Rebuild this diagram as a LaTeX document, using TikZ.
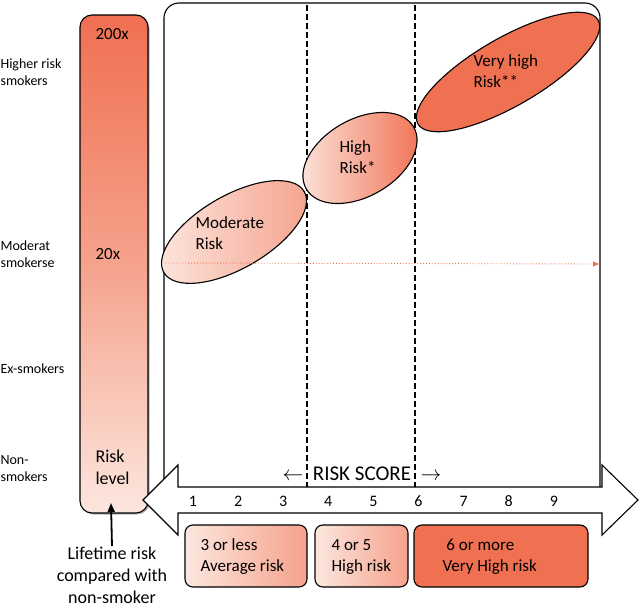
\documentclass[tikz,border=0pt]{standalone}
\usepackage{fontspec}
\setmainfont{Carlito}
\usepackage{tikz}
\usetikzlibrary{shapes.geometric, arrows.meta, positioning, shadows}

\definecolor{riskhigh}{RGB}{240,112,82}
\definecolor{riskmid}{RGB}{245,162,140}
\definecolor{risklow}{RGB}{252,230,222}

\begin{document}
\begin{tikzpicture}[x=1pt, y=-1pt, line width=1.1pt,
  sidelabel/.style={anchor=west, align=left, inner sep=0pt, font=\fontsize{14}{17}\selectfont},
  zone/.style={draw, ellipse, rotate=30, inner sep=0pt},
  zonetext/.style={anchor=west, align=left, inner sep=0pt, font=\fontsize{17}{21}\selectfont},
  band/.style={draw, rounded corners=8pt, minimum height=62pt, inner sep=0pt},
  bandtext/.style={anchor=west, align=left, inner sep=0pt, font=\fontsize{17}{21}\selectfont},
  divider/.style={dashed, dash pattern=on 6pt off 3pt},
]
\useasboundingbox (0,0) rectangle (640,607);

% Risk level bar
\node[draw, rounded corners=12pt, minimum width=68pt, minimum height=498pt, inner sep=0pt,
  top color=riskhigh, bottom color=risklow, middle color=riskmid,
  drop shadow={shadow xshift=1.5pt, shadow yshift=-1.5pt, opacity=.6}] (bar) at (114,264) {};
\node[anchor=west, inner sep=0pt, font=\fontsize{17}{21}\selectfont] (top) at (95,34) {200x};
\node[anchor=west, inner sep=0pt, font=\fontsize{17}{21}\selectfont] (mid) at (95,254) {20x};
\node[anchor=west, align=left, inner sep=0pt, font=\fontsize{18}{22}\selectfont] (level) at (95,467) {Risk\\level};

% Smoker groups
\node[sidelabel] (higher) at (0,72)  {Higher risk\\smokers};
\node[sidelabel] (moder)  at (0,254) {Moderat\\smokerse};
\node[sidelabel] (ex)     at (0,369) {Ex-smokers};
\node[sidelabel] (non)    at (0,469) {Non-\\smokers};

% Score panel
\draw[rounded corners=15pt] (164,487) -- (164,3) -- (600,3) -- (600,487);
\coordinate (d1top) at (307,5);
\coordinate (d1bot) at (307,487);
\coordinate (d2top) at (415,5);
\coordinate (d2bot) at (415,487);
\draw[divider] (d1top) -- (d1bot);
\draw[divider] (d2top) -- (d2bot);

% Risk zones
\node[zone, minimum width=162pt, minimum height=73pt, left color=risklow, right color=riskmid] (moderate) at (234,232) {};
\node[zone, minimum width=124pt, minimum height=77pt, left color=risklow, right color=riskhigh] (high) at (360,158) {};
\node[zone, minimum width=208pt, minimum height=68pt, fill=riskhigh] (veryhigh) at (508,72) {};
\node[zonetext] (moderatetext) at (195,233) {Moderate\\Risk};
\node[zonetext] (hightext)     at (339,157) {High\\Risk*};
\node[zonetext] (veryhightext) at (473,71)  {Very high\\Risk**};

% Reference line at 20x
\coordinate (refstart) at (165,263);
\coordinate (refend)   at (599,264);
\draw[riskhigh, dotted, line width=0.9pt, -{Triangle[length=6pt, width=5pt]}] (refstart) -- (refend);

% Score arrow
\draw[fill=white] (143,500) -- (178,465) -- (178,487) -- (602,487) -- (602,465) -- (638,500)
  -- (602,535) -- (602,513) -- (178,513) -- (178,535) -- cycle;
\foreach \s [count=\i from 0] in {1,...,9}
  \node[font=\fontsize{16}{19}\selectfont] (score\s) at (193+45.1*\i,501) {\s};
\node[font=\fontsize{21}{25}\selectfont] (scoretitle) at (362,474) {$\leftarrow$\ \ RISK SCORE\ \ $\rightarrow$};

% Score bands
\node[band, minimum width=122pt, left color=risklow, right color=riskmid] (band1) at (246,556) {};
\node[band, minimum width=93pt, left color=risklow, right color=riskmid] (band2) at (361.5,556) {};
\node[band, minimum width=174pt, fill=riskhigh] (band3) at (501,556) {};
\node[bandtext] (band1text) at (200,557) {3 or less\\Average risk};
\node[bandtext] (band2text) at (331,557) {4 or 5\\High risk};
\node[bandtext] (band3text) at (442,557) {\ 6 or more\\Very High risk};

% Lifetime risk note
\node[align=center, inner sep=0pt, font=\fontsize{18}{22}\selectfont] (lifetime) at (112,575) {Lifetime risk\\compared with\\non-smoker};
\coordinate (lifetip) at (111,503);
\draw[line width=1.8pt, -{Triangle[length=9pt, width=7pt]}] (lifetime.north) -- (lifetip);

\end{tikzpicture}
\end{document}
